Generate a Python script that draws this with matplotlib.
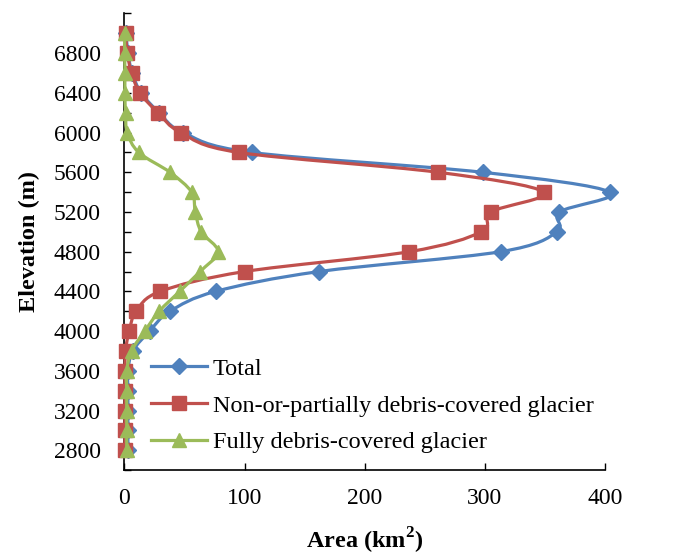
import numpy as np
import matplotlib.pyplot as plt
from matplotlib.path import Path
from matplotlib.patches import PathPatch

plt.rcParams['font.family'] = ['Liberation Serif', 'DejaVu Serif']

elevation = [2800, 3000, 3200, 3400, 3600, 3800, 4000, 4200, 4400, 4600, 4800,
             5000, 5200, 5400, 5600, 5800, 6000, 6200, 6400, 6600, 6800, 7000]
total = [3, 3, 3, 3, 3, 7, 21, 38, 76, 162, 313,
         360, 362, 404, 298, 106, 49, 29, 14, 6.5, 3, 1.5]
non_partial = [0.5, 0.5, 0.5, 0.5, 0.5, 1, 4, 10, 30, 100, 237,
               297, 305, 349, 261, 95, 47, 28, 13, 6, 2.5, 1]
fully = [2, 2, 2, 2, 2, 6, 17, 29, 46, 63, 78,
         64, 59, 56, 38, 12, 2.5, 1, 0.5, 0.5, 0.3, 0.2]

y_labels = [2800, 3200, 3600, 4000, 4400, 4800, 5200, 5600, 6000, 6400, 6800]


def smooth_path(x, y):
    # excel-style smoothed line: cubic bezier through every point
    pts = np.column_stack([x, y]).astype(float)
    n = len(pts)
    verts = [pts[0]]
    codes = [Path.MOVETO]
    for i in range(n - 1):
        p0 = pts[max(i - 1, 0)]
        p1 = pts[i]
        p2 = pts[i + 1]
        p3 = pts[min(i + 2, n - 1)]
        c1 = p1 + (p2 - p0) / 6.0
        c2 = p2 - (p3 - p1) / 6.0
        verts += [c1, c2, p2]
        codes += [Path.CURVE4] * 3
    return Path(verts, codes)


fig = plt.figure(figsize=(6.83, 5.59), dpi=100)
ax = fig.add_axes([0.182, 0.159, 0.704, 0.817])

series = [
    (total, '#4F81BD', 'D', 8, 'Total'),
    (non_partial, '#C0504D', 's', 9.5, 'Non-or-partially debris-covered glacier'),
    (fully, '#9BBB59', '^', 10, 'Fully debris-covered glacier'),
]

for z, (vals, col, mk, ms, lab) in enumerate(series):
    patch = PathPatch(smooth_path(vals, elevation), facecolor='none',
                      edgecolor=col, lw=2.3, zorder=2 + z, clip_on=False)
    ax.add_patch(patch)
    ax.plot(vals, elevation, linestyle='none', marker=mk, markersize=ms,
            color=col, zorder=2 + z, clip_on=False)
    # legend proxy
    ax.plot([], [], color=col, lw=2.3, marker=mk, markersize=ms, label=lab)

ax.set_xlim(0, 400)
ax.set_ylim(2600, 7200)
ax.set_xticks([0, 100, 200, 300, 400])
ax.set_yticks(y_labels)
ax.set_yticks(np.arange(2600, 7201, 200), minor=True)

for s in ['top', 'right']:
    ax.spines[s].set_visible(False)
for s in ['left', 'bottom']:
    ax.spines[s].set_color('black')
    ax.spines[s].set_linewidth(1.2)

ax.tick_params(axis='both', which='both', direction='in', length=5, width=1,
               labelsize=17)
ax.tick_params(axis='x', pad=13)
ax.tick_params(axis='y', pad=17)

ax.set_xlabel('Area (km$^\\mathregular{2}$)', fontsize=17.5, fontweight='bold',
              labelpad=12)
ax.set_ylabel('Elevation (m)', fontsize=17.5, fontweight='bold', labelpad=10)

ax.legend(loc='lower left', bbox_to_anchor=(0.02, 0.0), frameon=False,
          fontsize=17.5, handlelength=2.3, handletextpad=0.25, labelspacing=0.6,
          borderaxespad=0.3)

fig.savefig('out.png', dpi=100)
